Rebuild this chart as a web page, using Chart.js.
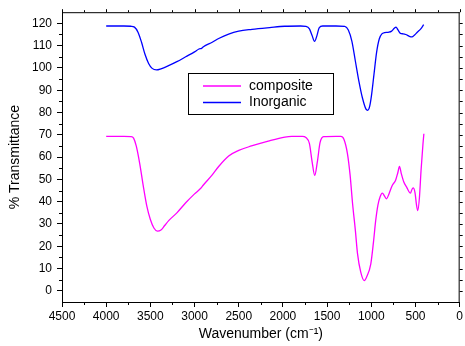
<!DOCTYPE html>
<html>
<head>
<meta charset="utf-8">
<script src="https://cdn.jsdelivr.net/npm/chart.js@4.4.0/dist/chart.umd.min.js"></script>
<style>
html,body{margin:0;padding:0;background:#fff;}
#wrap{width:465px;height:346px;position:relative;}
</style>
</head>
<body>
<div id="wrap"><canvas id="c" width="465" height="346"></canvas></div>
<script>
// ---- data ----
const seriesNames = ['composite', 'Inorganic'];
const seriesColors = ['#ff00ff', '#0000ff'];

const inorganicWavenumber = [4000,3900,3800,3720,3680,3640,3600,3560,3520,3480,3430,3380,3300,3200,3100,3000,2950,2920,2900,2800,2727,2614,2500,2350,2150,1980,1800,1740,1700,1670,1642,1615,1590,1550,1400,1300,1260,1220,1180,1140,1100,1060,1040,1020,1000,970,940,910,880,850,810,770,740,720,700,670,640,610,570,540,510,480,440,407];
const inorganicT = [118.8,118.8,118.8,118.7,118.3,116,111.5,106,102,99.8,99.1,99.6,100.9,102.8,105,107.2,108.5,108.8,109.5,111.5,113.2,115.2,116.5,117.3,118.1,118.7,118.8,118.6,117.5,114.5,111.9,114.5,118,118.8,118.8,118.6,117,112,103,94,86.5,81.5,81,82.5,87,97,107,113,115.3,115.8,116,116.5,117.8,118.3,117.2,115.5,115.3,115,114.2,113.9,114.8,116,117.5,119.4];

const compositeWavenumber = [4000,3900,3800,3720,3690,3660,3620,3580,3540,3500,3460,3420,3380,3340,3290,3200,3100,3000,2930,2900,2800,2727,2614,2500,2356,2166,1978,1900,1780,1740,1700,1670,1640,1610,1580,1540,1400,1345,1310,1270,1240,1212,1180,1156,1120,1080,1050,1006,975,950,925,900,875,850,827,800,763,726,700,681,660,632,600,557,540,527,505,490,474,455,437,415,405];
const compositeT = [69.3,69.3,69.3,69.2,68.5,65,57,47,38,32,28.2,26.8,27.3,29.2,31.6,35,39.5,43.5,46,47.5,52,55.8,60.5,63,65,67.2,69,69.3,69.3,68.8,66,58,51.8,58,66.5,69.2,69.3,69.3,68,61.6,52,39.2,27,16.7,8.5,4.6,6.5,12,22,31.6,38.5,42.2,43.8,42.5,41.3,43.5,47.3,49.5,53,55.8,52.5,48.8,46.5,43.8,45.5,46.2,44,39,36,42,54,66,70.5];

const xTickValues = [4500,4000,3500,3000,2500,2000,1500,1000,500,0];
const yTickValues = [0,10,20,30,40,50,60,70,80,90,100,110,120];
const xRange = [0, 4500];
const yRange = [-5, 125];

const toPoints = (xs, ys) => xs.map((v, i) => ({x: v, y: ys[i]}));

const FONT = "'Liberation Sans', Arial, sans-serif";

const framePlugin = {
  id: 'frame',
  afterDraw(chart) {
    const {ctx, chartArea: a, scales: {x, y}} = chart;
    ctx.save();
    ctx.strokeStyle = '#000';
    ctx.lineWidth = 1;
    ctx.beginPath();
    // top and right frame
    ctx.moveTo(a.left, a.top + 0.5); ctx.lineTo(a.right, a.top + 0.5);
    ctx.moveTo(a.right - 0.5, a.top); ctx.lineTo(a.right - 0.5, a.bottom);
    // x minor ticks bottom + top ticks
    for (let v = xRange[0]; v <= xRange[1]; v += 250) {
      const px = Math.round(x.getPixelForValue(v)) + 0.5;
      if (v % 500 !== 0) { ctx.moveTo(px, a.bottom); ctx.lineTo(px, a.bottom + 3); }
      ctx.moveTo(px, a.top); ctx.lineTo(px, a.top - (v % 500 === 0 ? 3 : 2));
    }
    // y minor ticks left + right ticks
    for (let v = 0; v <= 120; v += 5) {
      const py = Math.round(y.getPixelForValue(v)) + 0.5;
      if (v % 10 !== 0) { ctx.moveTo(a.left, py); ctx.lineTo(a.left - 3, py); }
      ctx.moveTo(a.right, py); ctx.lineTo(a.right + 3, py);
    }
    ctx.stroke();

    // legend box inside plot
    const bx = 188, by = 73, bw = 145, bh = 41;
    ctx.fillStyle = '#fff';
    ctx.fillRect(bx, by, bw, bh);
    ctx.strokeRect(bx + 0.5, by + 0.5, bw, bh);
    ctx.font = '14px ' + FONT;
    ctx.textBaseline = 'middle';
    ctx.textAlign = 'left';
    seriesNames.forEach((name, i) => {
      const ly = by + 13 + i * 16.5;
      ctx.strokeStyle = seriesColors[i];
      ctx.lineWidth = 1.3;
      ctx.beginPath(); ctx.moveTo(bx + 15, ly); ctx.lineTo(bx + 53, ly); ctx.stroke();
      ctx.fillStyle = '#000';
      ctx.fillText(name, bx + 61, ly);
    });
    ctx.restore();
  }
};

new Chart(document.getElementById('c'), {
  type: 'line',
  data: {
    datasets: [
      {label: seriesNames[0], data: toPoints(compositeWavenumber, compositeT), borderColor: seriesColors[0], borderWidth: 1.3, pointRadius: 0, cubicInterpolationMode: 'monotone', fill: false},
      {label: seriesNames[1], data: toPoints(inorganicWavenumber, inorganicT), borderColor: seriesColors[1], borderWidth: 1.3, pointRadius: 0, cubicInterpolationMode: 'monotone', fill: false}
    ]
  },
  options: {
    responsive: false,
    animation: false,
    devicePixelRatio: 1,
    layout: {padding: {top: 12, right: 2, left: 0, bottom: 0}},
    plugins: {legend: {display: false}, tooltip: {enabled: false}},
    scales: {
      x: {
        type: 'linear', reverse: true, min: xRange[0], max: xRange[1],
        afterBuildTicks: s => { s.ticks = xTickValues.map(v => ({value: v})); },
        afterFit: s => { s.height = 44; },
        grid: {display: true, drawOnChartArea: false, drawTicks: true, tickLength: 5, color: '#000'},
        border: {display: true, color: '#000', width: 1},
        ticks: {color: '#000', font: {family: FONT, size: 12}, padding: 2, maxRotation: 0, autoSkip: false, callback: v => String(v)},
        title: {display: true, text: 'Wavenumber (cm⁻¹)', color: '#000', font: {family: FONT, size: 14}, padding: {top: 0, bottom: 3}}
      },
      y: {
        type: 'linear', min: yRange[0], max: yRange[1],
        afterBuildTicks: s => { s.ticks = yTickValues.map(v => ({value: v})); },
        afterFit: s => { s.width = 62; },
        grid: {display: true, drawOnChartArea: false, drawTicks: true, tickLength: 5, color: '#000'},
        border: {display: true, color: '#000', width: 1},
        ticks: {color: '#000', font: {family: FONT, size: 12}, padding: 5, autoSkip: false, callback: v => String(v)},
        title: {display: true, text: '% Transmittance', color: '#000', font: {family: FONT, size: 14}, padding: {top: 7, bottom: 0}}
      }
    }
  },
  plugins: [framePlugin]
});
</script>
</body>
</html>
